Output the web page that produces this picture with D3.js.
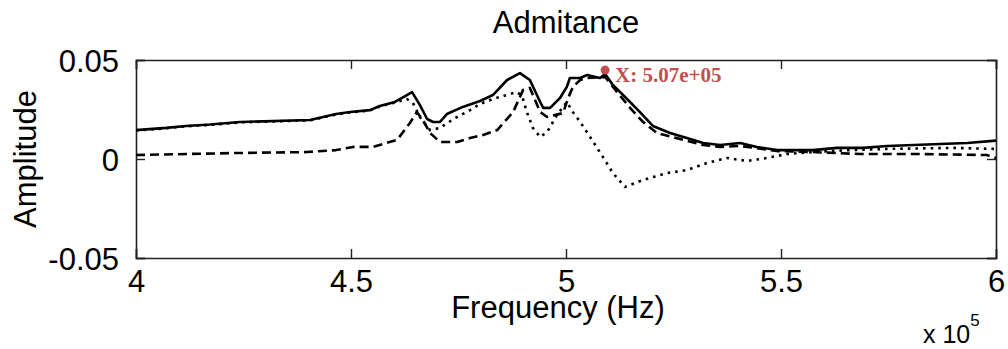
<!DOCTYPE html>
<html>
<head>
<meta charset="utf-8">
<script src="https://cdn.jsdelivr.net/npm/d3@7"></script>
<style>
  body { margin: 0; background: #fff; }
  text { font-family: "Liberation Sans", Arial, sans-serif; fill: #000; }
</style>
</head>
<body>
<script>
// ---- data (frequency in Hz, amplitude) ----
const solidFreq = [400000, 407000, 411600, 417200, 424200, 440500, 446500, 449800, 454400, 456700,
  460200, 462600, 464200, 466000, 467700, 469100, 470700, 472300, 476000, 480000, 483000, 486300,
  489300, 491600, 494000, 494700, 496300, 498600, 500200, 500900, 503300, 504900, 507900, 509100,
  510900, 514200, 517200, 520200, 524200, 528100, 531900, 535800, 540500, 544400, 549100, 557400,
  563000, 569100, 574700, 587000, 593300, 600000];
const solidAmp = [0.0146, 0.0157, 0.0167, 0.0174, 0.0187, 0.0197, 0.0227, 0.0237, 0.0247, 0.0268,
  0.0288, 0.0318, 0.0338, 0.0273, 0.0202, 0.0187, 0.0187, 0.0227, 0.0263, 0.0293, 0.0323, 0.0399,
  0.0434, 0.0399, 0.0288, 0.0258, 0.0258, 0.0308, 0.0364, 0.0409, 0.0409, 0.0424, 0.0409, 0.0429,
  0.0374, 0.0303, 0.0237, 0.0167, 0.0131, 0.0106, 0.0081, 0.0071, 0.0081, 0.0061, 0.0045, 0.0045,
  0.0056, 0.0056, 0.0066, 0.0076, 0.0081, 0.0093];

const dashFreq = [400000, 422600, 439800, 446500, 450500, 455100, 460700, 463700, 465300, 466700,
  468400, 470700, 474700, 477700, 480700, 484000, 487700, 490000, 491600, 494000, 495600, 499300,
  500500, 501600, 503300, 504900, 509100, 511900, 514900, 517900, 521200, 526500, 531900, 535800,
  540500, 549100, 557400, 568400, 582300, 597900, 600000];
const dashAmp = [0.0020, 0.0030, 0.0035, 0.0045, 0.0061, 0.0061, 0.0096, 0.0182, 0.0237, 0.0197,
  0.0131, 0.0086, 0.0086, 0.0106, 0.0121, 0.0146, 0.0237, 0.0348, 0.0359, 0.0237, 0.0212, 0.0232,
  0.0308, 0.0364, 0.0399, 0.0409, 0.0414, 0.0338, 0.0258, 0.0187, 0.0131, 0.0101, 0.0071, 0.0061,
  0.0066, 0.0040, 0.0035, 0.0025, 0.0025, 0.0020, 0.0005];

const dotFreq = [400000, 407000, 411600, 417200, 424200, 440500, 446500, 449800, 454400, 456700,
  460200, 463000, 464400, 466000, 468400, 470700, 474200, 477700, 480000, 483000, 487000, 488600,
  489800, 490900, 492300, 494000, 495600, 497900, 500200, 501600, 503300, 505600, 508600, 510900,
  513700, 517900, 523500, 528100, 532800, 537400, 542100, 546700, 551400, 557400, 566000, 574700,
  590000, 600000];
const dotAmp = [0.0144, 0.0155, 0.0165, 0.0172, 0.0185, 0.0195, 0.0225, 0.0235, 0.0245, 0.0265,
  0.0285, 0.0303, 0.0283, 0.0212, 0.0146, 0.0157, 0.0207, 0.0247, 0.0278, 0.0303, 0.0328, 0.0338,
  0.0318, 0.0237, 0.0157, 0.0111, 0.0136, 0.0222, 0.0288, 0.0237, 0.0187, 0.0111, 0.0010, -0.0071,
  -0.0141, -0.0106, -0.0071, -0.0056, -0.0020, 0.0005, -0.0010, 0.0005, 0.0025, 0.0035, 0.0045,
  0.0051, 0.0056, 0.0051];

const xTicks = [400000, 450000, 500000, 550000, 600000];
const yTicks = [-0.05, 0, 0.05];
const tipFreq = 507000;
const tipAmp = 0.0429;

// ---- layout ----
const W = 1008, H = 349;
const margin = {left: 136, right: 996, top: 60, bottom: 258};

const svg = d3.select("body").append("svg")
  .attr("width", W).attr("height", H);

const x = d3.scaleLinear().domain([400000, 600000]).range([margin.left, margin.right]);
const y = d3.scaleLinear().domain([-0.05, 0.05]).range([margin.bottom, margin.top]);

// clip
svg.append("clipPath").attr("id", "clip")
  .append("rect").attr("x", margin.left).attr("y", margin.top)
  .attr("width", margin.right - margin.left).attr("height", margin.bottom - margin.top);

// axes (inner ticks on all sides)
const fmtX = d => String(+(d / 1e5).toFixed(1));
const fmtY = d => d === 0 ? "0" : d3.format(".2f")(d).replace("−", "-");

svg.append("g").attr("transform", `translate(0,${margin.bottom})`)
  .call(d3.axisBottom(x).tickValues(xTicks).tickSize(-9).tickPadding(18).tickFormat(fmtX))
  .call(g => g.selectAll("text").attr("font-size", 31).attr("dy", "0.5em"));
svg.append("g").attr("transform", `translate(0,${margin.top})`)
  .call(d3.axisTop(x).tickValues(xTicks).tickSize(-9).tickFormat(""));
svg.append("g").attr("transform", `translate(${margin.left},0)`)
  .call(d3.axisLeft(y).tickValues(yTicks).tickSize(-9).tickPadding(17).tickFormat(fmtY))
  .call(g => g.selectAll("text").attr("font-size", 31).attr("dy", "0.36em"));
svg.append("g").attr("transform", `translate(${margin.right},0)`)
  .call(d3.axisRight(y).tickValues(yTicks).tickSize(-9).tickFormat(""));

svg.selectAll(".domain").attr("stroke", "#222").attr("stroke-width", 1.6);
svg.selectAll(".tick line").attr("stroke", "#222").attr("stroke-width", 1.4);
svg.selectAll(".tick text").attr("font-family", null);

// lines
const line = d3.line().x(d => x(d[0])).y(d => y(d[1]));
const plot = svg.append("g").attr("clip-path", "url(#clip)");

function drawSeries(fr, amp, dash) {
  plot.append("path")
    .datum(fr.map((f, i) => [f, amp[i]]))
    .attr("fill", "none")
    .attr("stroke", "#000")
    .attr("stroke-width", 2.6)
    .attr("stroke-linejoin", "round")
    .attr("stroke-dasharray", dash)
    .attr("d", line);
}
drawSeries(dashFreq, dashAmp, "9,5");
drawSeries(dotFreq, dotAmp, "2.6,5");
drawSeries(solidFreq, solidAmp, null);

// data tip
svg.append("circle")
  .attr("cx", x(tipFreq) + 9).attr("cy", y(tipAmp) - 4)
  .attr("r", 4.5).attr("fill", "#c0504d");
svg.append("text")
  .attr("x", x(tipFreq) + 19).attr("y", 82)
  .attr("font-size", 21).attr("font-weight", "bold")
  .style("font-family", "'Liberation Serif', 'DejaVu Serif', serif")
  .style("fill", "#c0504d")
  .text("X: 5.07e+05");

// titles
const midX = (margin.left + margin.right) / 2;
svg.append("text").attr("x", midX).attr("y", 33)
  .attr("text-anchor", "middle").attr("font-size", 31).text("Admitance");
svg.append("text").attr("x", midX - 8).attr("y", 318)
  .attr("text-anchor", "middle").attr("font-size", 31).text("Frequency (Hz)");
svg.append("text").attr("transform", `translate(36,${(margin.top + margin.bottom) / 2}) rotate(-90)`)
  .attr("text-anchor", "middle").attr("font-size", 31).text("Amplitude");

const ex = svg.append("text").attr("x", 923).attr("y", 343).attr("font-size", 25);
ex.append("tspan").text("x 10");
ex.append("tspan").attr("dy", -17).attr("font-size", 17).text("5");
</script>
</body>
</html>
